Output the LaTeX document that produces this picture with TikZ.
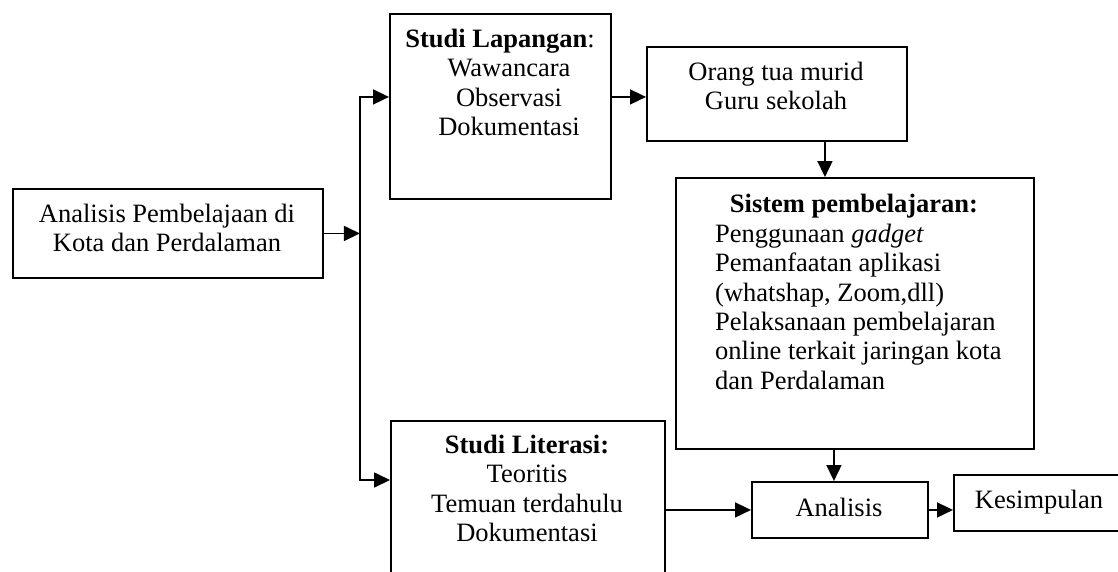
\documentclass[tikz,border=0pt]{standalone}
\usepackage{fontspec}
\setmainfont{Liberation Serif}
\usetikzlibrary{arrows.meta}
\tikzset{
  box/.style={draw, line width=1.9pt, inner sep=0pt, anchor=north west},
  txt/.style={inner sep=0pt, align=center, font=\fontsize{26.5}{29.3}\selectfont},
  arr/.style={line width=1.7pt, -{Triangle[length=16pt,width=15pt]}},
}
\begin{document}
\begin{tikzpicture}[x=1pt,y=-1pt]
\clip (0,0) rectangle (1118,571);
\fill[white] (0,0) rectangle (1118,571);
% boxes
\node[box, minimum width=310pt, minimum height=89pt] (a1) at (12,188) {};
\node[box, minimum width=221pt, minimum height=185pt] (lap) at (389,13) {};
\node[box, minimum width=260pt, minimum height=94pt] (org) at (646,46) {};
\node[box, minimum width=358pt, minimum height=271pt] (sis) at (675,177) {};
\node[box, minimum width=274pt, minimum height=200pt] (lit) at (390,420) {};
\node[box, minimum width=176pt, minimum height=56pt] (an) at (751,481) {};
\node[box, minimum width=172pt, minimum height=56pt] (kes) at (953,474) {};
% texts
\node[txt, anchor=north] (a1t) at (167,204) {Analisis Pembelajaan di\\Kota dan Perdalaman};
\node[txt, anchor=north] (lapt) at (500,29) {\textbf{Studi Lapangan}:\\\hspace*{18pt}Wawancara\\\hspace*{18pt}Observasi\\\hspace*{18pt}Dokumentasi};
\node[txt, anchor=north] (orgt) at (776,62) {Orang tua murid\\Guru sekolah};
\node[txt, anchor=base] (sist) at (854,212) {\textbf{Sistem pembelajaran:}};
\node[txt, anchor=north west, align=left] (sisl) at (715,224) {Penggunaan \textit{gadget}\\Pemanfaatan aplikasi\\(whatshap, Zoom,dll)\\Pelaksanaan pembelajaran\\online terkait jaringan kota\\dan Perdalaman};
\node[txt, anchor=north] (litt) at (527,435) {\textbf{Studi Literasi:}\\Teoritis\\Temuan terdahulu\\Dokumentasi};
\node[txt, anchor=base] (ant) at (839,516) {Analisis};
\node[txt, anchor=base] (kest) at (1039,508) {Kesimpulan};
% connectors
\coordinate (trunk) at ([xshift=36pt]a1.east);
\coordinate (lapIn) at ([yshift=9.5pt]lap.west);
\coordinate (litIn) at ([yshift=-60pt]lit.north west);
\draw[arr] (a1.east) -- (trunk);
\draw[arr] (trunk) |- (lapIn);
\draw[arr] (trunk) |- (litIn);
\draw[arr] (lapIn -| lap.east) -- (lapIn -| org.west);
\coordinate (oS) at ([xshift=48pt]org.south);
\draw[arr] (oS) -- (oS |- sis.north);
\coordinate (aN) at ([xshift=-6pt]an.north);
\draw[arr] (aN |- sis.south) -- (aN);
\draw[arr] (an.west -| lit.east) -- (an.west);
\draw[arr] (an.east) -- (an.east -| kes.west);
\end{tikzpicture}
\end{document}
